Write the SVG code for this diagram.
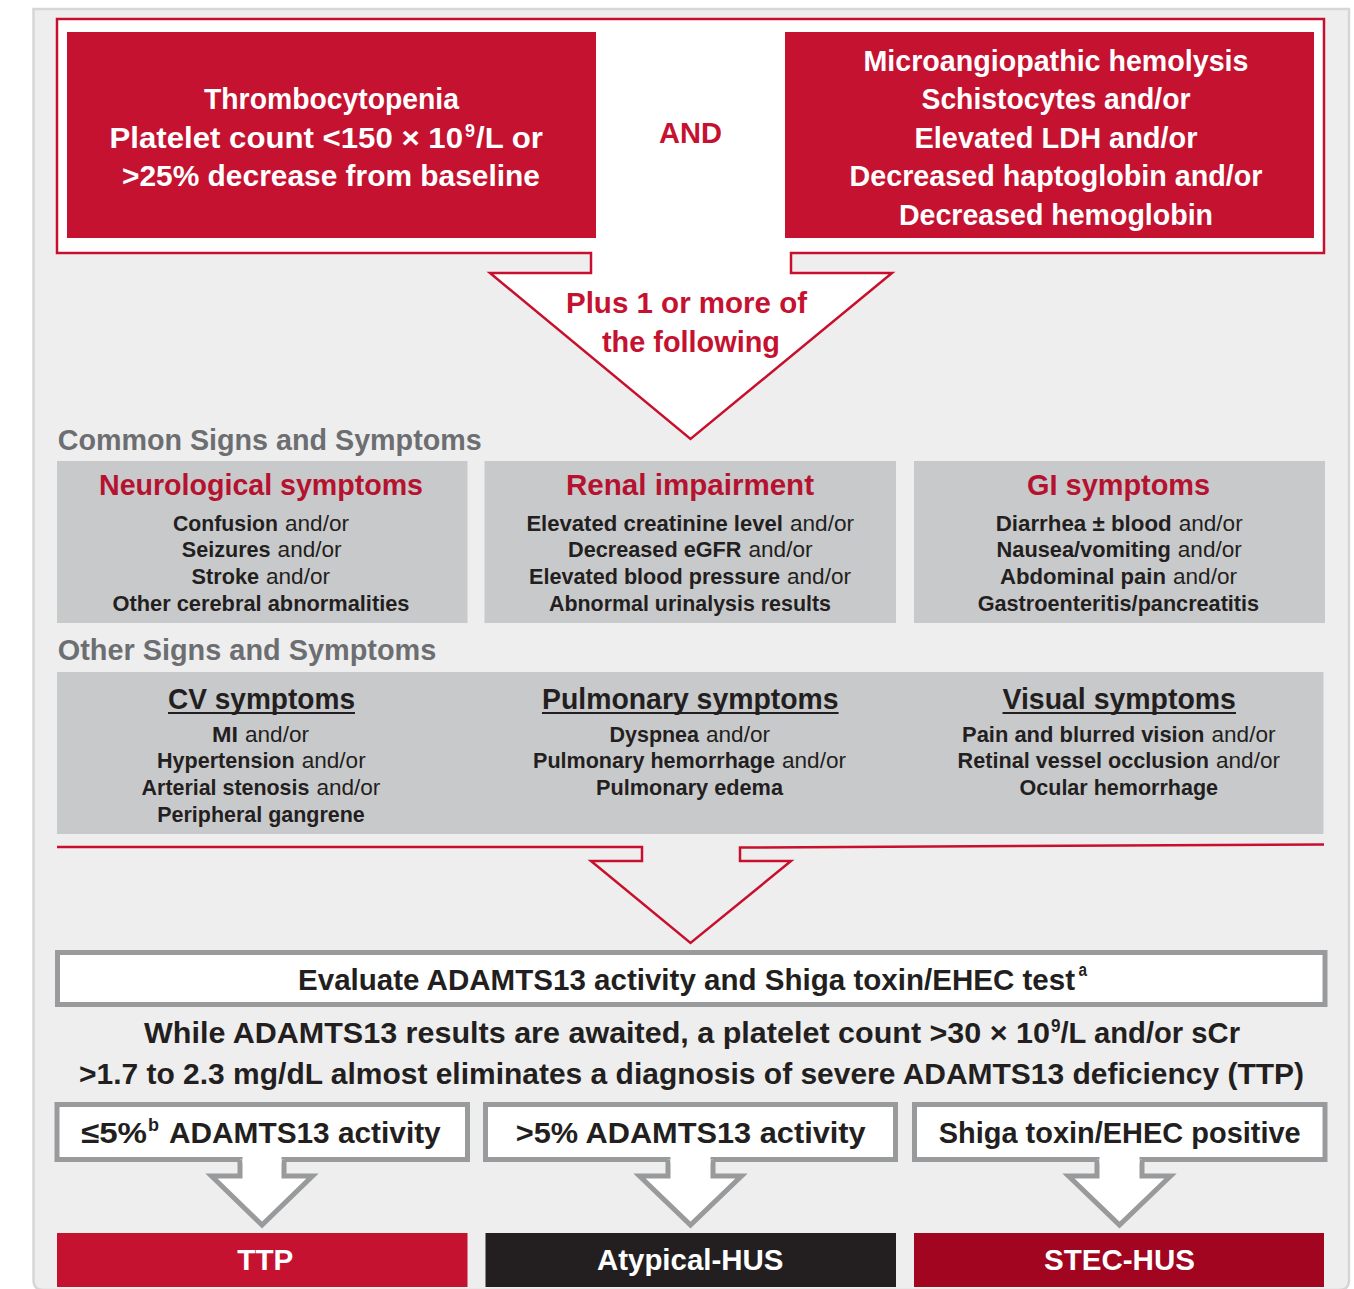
<svg xmlns="http://www.w3.org/2000/svg" width="1354" height="1289" viewBox="0 0 1354 1289">
<style>
text{font-family:"Liberation Sans",Arial,sans-serif;}
.w{fill:#ffffff;font-weight:bold;font-size:30px;}
.r{fill:#c41230;font-weight:bold;font-size:30px;}
.hd{fill:#6d6e71;font-weight:bold;font-size:29px;}
.tr{fill:#b5122f;font-weight:bold;font-size:30px;}
.td{fill:#231f20;font-weight:bold;font-size:30px;}
.it{fill:#231f20;font-size:22.5px;font-weight:normal;}
.b{fill:#231f20;font-size:22.5px;font-weight:bold;}
.k{fill:#231f20;font-weight:bold;font-size:30px;}
.sw{fill:#ffffff;font-weight:bold;font-size:19px;}
.sk{fill:#231f20;font-weight:bold;font-size:18px;}
.gbox{fill:#c8c9cb;}
.obox{fill:#ffffff;stroke:#999a9c;stroke-width:5;}
.garrow{fill:#ffffff;stroke:#999a9c;stroke-width:5;stroke-linejoin:miter;}
.ul{stroke:#231f20;stroke-width:2;}
</style>
<rect x="0" y="0" width="1354" height="1289" fill="#ffffff"/>
<path id="panel" d="M33.5,9 H1349 V1280 Q1349,1290 1339,1290 H43.5 Q33.5,1290 33.5,1280 Z" fill="#eeeeee" stroke="#d6d6d6" stroke-width="2.5"/>

<g id="connectors">
<path id="top-outline-arrow" d="M57,19 H1324 V253 H791 V273 H892 L690.5,439 L490,273 H591 V253 H57 Z" fill="#ffffff" stroke="#c8102e" stroke-width="2.5"/>
<path id="mid-arrow" d="M57,847 H642 V861 H591 L690.5,943 L791,861 H740 V847.5 L1324,844.5" fill="none" stroke="#c8102e" stroke-width="2.5"/>
</g>

<g id="thrombocytopenia">
<rect x="67" y="32" width="529" height="206" fill="#c41230"/>
<text class="w" x="331.5" y="109" text-anchor="middle" textLength="255" lengthAdjust="spacingAndGlyphs">Thrombocytopenia</text>
<text class="w" x="109.5" y="147.5" textLength="353.5" lengthAdjust="spacingAndGlyphs">Platelet count &lt;150 × 10</text>
<text class="sw" x="465" y="136.5" textLength="10" lengthAdjust="spacingAndGlyphs">9</text>
<text class="w" x="476" y="147.5" textLength="67" lengthAdjust="spacingAndGlyphs">/L or</text>
<text class="w" x="331" y="186" text-anchor="middle" textLength="418" lengthAdjust="spacingAndGlyphs">&gt;25% decrease from baseline</text>
</g>

<g id="and-label">
<text class="r" x="690.5" y="143" text-anchor="middle" textLength="63" lengthAdjust="spacingAndGlyphs">AND</text>
</g>

<g id="hemolysis">
<rect x="785" y="32" width="529" height="206" fill="#c41230"/>
<text class="w" x="1056" y="70.5" text-anchor="middle" textLength="385" lengthAdjust="spacingAndGlyphs">Microangiopathic hemolysis</text>
<text class="w" x="1056" y="109" text-anchor="middle" textLength="269" lengthAdjust="spacingAndGlyphs">Schistocytes and/or</text>
<text class="w" x="1056" y="147.5" text-anchor="middle" textLength="283" lengthAdjust="spacingAndGlyphs">Elevated LDH and/or</text>
<text class="w" x="1056" y="186" text-anchor="middle" textLength="413" lengthAdjust="spacingAndGlyphs">Decreased haptoglobin and/or</text>
<text class="w" x="1056" y="224.5" text-anchor="middle" textLength="314" lengthAdjust="spacingAndGlyphs">Decreased hemoglobin</text>
</g>

<g id="plus-label">
<text class="r" x="686.5" y="313" text-anchor="middle" textLength="241" lengthAdjust="spacingAndGlyphs">Plus 1 or more of</text>
<text class="r" x="691" y="352" text-anchor="middle" textLength="178" lengthAdjust="spacingAndGlyphs">the following</text>
</g>

<g id="common-heading">
<text class="hd" x="57.7" y="450" textLength="424" lengthAdjust="spacingAndGlyphs">Common Signs and Symptoms</text>
</g>

<g id="neurological">
<rect class="gbox" x="57" y="461" width="410.5" height="162"/>
<text class="tr" x="261" y="495" text-anchor="middle" textLength="324" lengthAdjust="spacingAndGlyphs">Neurological symptoms</text>
<text class="b" x="173" y="530.7" textLength="105" lengthAdjust="spacingAndGlyphs">Confusion</text>
<text class="it" x="285" y="530.7" textLength="64" lengthAdjust="spacingAndGlyphs">and/or</text>
<text class="b" x="181.8" y="557.3" textLength="88.8" lengthAdjust="spacingAndGlyphs">Seizures</text>
<text class="it" x="277.6" y="557.3" textLength="64" lengthAdjust="spacingAndGlyphs">and/or</text>
<text class="b" x="191.6" y="584" textLength="67.4" lengthAdjust="spacingAndGlyphs">Stroke</text>
<text class="it" x="266" y="584" textLength="64" lengthAdjust="spacingAndGlyphs">and/or</text>
<text class="b" x="261" y="610.7" text-anchor="middle" textLength="297" lengthAdjust="spacingAndGlyphs">Other cerebral abnormalities</text>
</g>

<g id="renal">
<rect class="gbox" x="484.5" y="461" width="411.5" height="162"/>
<text class="tr" x="690" y="495" text-anchor="middle" textLength="248" lengthAdjust="spacingAndGlyphs">Renal impairment</text>
<text class="b" x="526.4" y="530.7" textLength="256.6" lengthAdjust="spacingAndGlyphs">Elevated creatinine level</text>
<text class="it" x="790" y="530.7" textLength="64" lengthAdjust="spacingAndGlyphs">and/or</text>
<text class="b" x="568" y="557.3" textLength="173.5" lengthAdjust="spacingAndGlyphs">Decreased eGFR</text>
<text class="it" x="748.5" y="557.3" textLength="64" lengthAdjust="spacingAndGlyphs">and/or</text>
<text class="b" x="529" y="584" textLength="251" lengthAdjust="spacingAndGlyphs">Elevated blood pressure</text>
<text class="it" x="787" y="584" textLength="64" lengthAdjust="spacingAndGlyphs">and/or</text>
<text class="b" x="690" y="610.7" text-anchor="middle" textLength="282" lengthAdjust="spacingAndGlyphs">Abnormal urinalysis results</text>
</g>

<g id="gi">
<rect class="gbox" x="914" y="461" width="411" height="162"/>
<text class="tr" x="1118.6" y="495" text-anchor="middle" textLength="183" lengthAdjust="spacingAndGlyphs">GI symptoms</text>
<text class="b" x="995.7" y="530.7" textLength="176" lengthAdjust="spacingAndGlyphs">Diarrhea ± blood</text>
<text class="it" x="1178.7" y="530.7" textLength="64" lengthAdjust="spacingAndGlyphs">and/or</text>
<text class="b" x="996.6" y="557.3" textLength="174.2" lengthAdjust="spacingAndGlyphs">Nausea/vomiting</text>
<text class="it" x="1177.8" y="557.3" textLength="64" lengthAdjust="spacingAndGlyphs">and/or</text>
<text class="b" x="1000" y="584" textLength="166" lengthAdjust="spacingAndGlyphs">Abdominal pain</text>
<text class="it" x="1173" y="584" textLength="64" lengthAdjust="spacingAndGlyphs">and/or</text>
<text class="b" x="1118.4" y="610.7" text-anchor="middle" textLength="281.5" lengthAdjust="spacingAndGlyphs">Gastroenteritis/pancreatitis</text>
</g>

<g id="other-heading">
<text class="hd" x="57.7" y="660" textLength="378.6" lengthAdjust="spacingAndGlyphs">Other Signs and Symptoms</text>
</g>

<g id="other-box">
<rect class="gbox" x="57" y="672" width="1266.5" height="162"/>
</g>

<g id="cv">
<text class="td" x="261.5" y="709" text-anchor="middle" textLength="187" lengthAdjust="spacingAndGlyphs">CV symptoms</text>
<line class="ul" x1="168" y1="713" x2="355" y2="713"/>
<text class="b" x="212" y="741.7" textLength="26" lengthAdjust="spacingAndGlyphs">MI</text>
<text class="it" x="245" y="741.7" textLength="64" lengthAdjust="spacingAndGlyphs">and/or</text>
<text class="b" x="157" y="768.3" textLength="137.7" lengthAdjust="spacingAndGlyphs">Hypertension</text>
<text class="it" x="301.7" y="768.3" textLength="64" lengthAdjust="spacingAndGlyphs">and/or</text>
<text class="b" x="141.6" y="795" textLength="167.8" lengthAdjust="spacingAndGlyphs">Arterial stenosis</text>
<text class="it" x="316.4" y="795" textLength="64" lengthAdjust="spacingAndGlyphs">and/or</text>
<text class="b" x="261" y="821.7" text-anchor="middle" textLength="207.6" lengthAdjust="spacingAndGlyphs">Peripheral gangrene</text>
</g>

<g id="pulmonary">
<text class="td" x="690.3" y="709" text-anchor="middle" textLength="296.6" lengthAdjust="spacingAndGlyphs">Pulmonary symptoms</text>
<line class="ul" x1="542" y1="713" x2="838.6" y2="713"/>
<text class="b" x="609.5" y="741.7" textLength="89.5" lengthAdjust="spacingAndGlyphs">Dyspnea</text>
<text class="it" x="706" y="741.7" textLength="64" lengthAdjust="spacingAndGlyphs">and/or</text>
<text class="b" x="533" y="768.3" textLength="242" lengthAdjust="spacingAndGlyphs">Pulmonary hemorrhage</text>
<text class="it" x="782" y="768.3" textLength="64" lengthAdjust="spacingAndGlyphs">and/or</text>
<text class="b" x="689.5" y="795" text-anchor="middle" textLength="187" lengthAdjust="spacingAndGlyphs">Pulmonary edema</text>
</g>

<g id="visual">
<text class="td" x="1119.2" y="709" text-anchor="middle" textLength="233.5" lengthAdjust="spacingAndGlyphs">Visual symptoms</text>
<line class="ul" x1="1002.5" y1="713" x2="1236" y2="713"/>
<text class="b" x="962" y="741.7" textLength="242.5" lengthAdjust="spacingAndGlyphs">Pain and blurred vision</text>
<text class="it" x="1211.5" y="741.7" textLength="64" lengthAdjust="spacingAndGlyphs">and/or</text>
<text class="b" x="957.6" y="768.3" textLength="251.4" lengthAdjust="spacingAndGlyphs">Retinal vessel occlusion</text>
<text class="it" x="1216" y="768.3" textLength="64" lengthAdjust="spacingAndGlyphs">and/or</text>
<text class="b" x="1118.8" y="795" text-anchor="middle" textLength="198.5" lengthAdjust="spacingAndGlyphs">Ocular hemorrhage</text>
</g>

<g id="evaluate">
<rect class="obox" x="57.5" y="952.5" width="1267.5" height="52"/>
<text class="k" x="298" y="990" font-size="29.4" textLength="777" lengthAdjust="spacingAndGlyphs">Evaluate ADAMTS13 activity and Shiga toxin/EHEC test</text>
<text class="sk" x="1078.5" y="976" textLength="8.5" lengthAdjust="spacingAndGlyphs">a</text>
</g>

<g id="note">
<text class="k" x="144" y="1043" textLength="906" lengthAdjust="spacingAndGlyphs">While ADAMTS13 results are awaited, a platelet count &gt;30 × 10</text>
<text class="sk" x="1051" y="1032" font-size="19" textLength="9.5" lengthAdjust="spacingAndGlyphs">9</text>
<text class="k" x="1060.5" y="1043" textLength="179.5" lengthAdjust="spacingAndGlyphs">/L and/or sCr</text>
<text class="k" x="79" y="1084" textLength="1225" lengthAdjust="spacingAndGlyphs">&gt;1.7 to 2.3 mg/dL almost eliminates a diagnosis of severe ADAMTS13 deficiency (TTP)</text>
</g>

<g id="low-activity">
<rect class="obox" x="57" y="1104.5" width="410.5" height="55"/>
<path class="garrow" d="M240,1159.5 V1176 H211.5 L262,1225 L312.5,1176 H284 V1159.5"/>
<rect x="242.5" y="1155" width="39" height="8" fill="#ffffff"/>
<text class="k" x="81" y="1143" textLength="66" lengthAdjust="spacingAndGlyphs">≤5%</text>
<text class="sk" x="148" y="1131" textLength="11" lengthAdjust="spacingAndGlyphs">b</text>
<text class="k" x="169" y="1143" textLength="271.7" lengthAdjust="spacingAndGlyphs">ADAMTS13 activity</text>
</g>

<g id="high-activity">
<rect class="obox" x="485.5" y="1104.5" width="410" height="55"/>
<path class="garrow" d="M668,1159.5 V1176 H639.5 L690.5,1225 L741.5,1176 H713 V1159.5"/>
<rect x="670.5" y="1155" width="40" height="8" fill="#ffffff"/>
<text class="k" x="515.7" y="1143" textLength="350" lengthAdjust="spacingAndGlyphs">&gt;5% ADAMTS13 activity</text>
</g>

<g id="shiga-positive">
<rect class="obox" x="914.5" y="1104.5" width="410.5" height="55"/>
<path class="garrow" d="M1097,1159.5 V1176 H1068.5 L1119.5,1225 L1170.5,1176 H1142 V1159.5"/>
<rect x="1099.5" y="1155" width="40" height="8" fill="#ffffff"/>
<text class="k" x="938.7" y="1143" textLength="362" lengthAdjust="spacingAndGlyphs">Shiga toxin/EHEC positive</text>
</g>

<g id="ttp">
<rect x="57" y="1233" width="410.5" height="54" fill="#c41230"/>
<text class="w" x="265.3" y="1270" text-anchor="middle" textLength="56" lengthAdjust="spacingAndGlyphs">TTP</text>
</g>

<g id="atypical-hus">
<rect x="485.5" y="1233" width="410.5" height="54" fill="#231f20"/>
<text class="w" x="690.2" y="1270" text-anchor="middle" textLength="186.5" lengthAdjust="spacingAndGlyphs">Atypical-HUS</text>
</g>

<g id="stec-hus">
<rect x="914" y="1233" width="410" height="54" fill="#a1051f"/>
<text class="w" x="1119.5" y="1270" text-anchor="middle" textLength="151" lengthAdjust="spacingAndGlyphs">STEC-HUS</text>
</g>
</svg>
